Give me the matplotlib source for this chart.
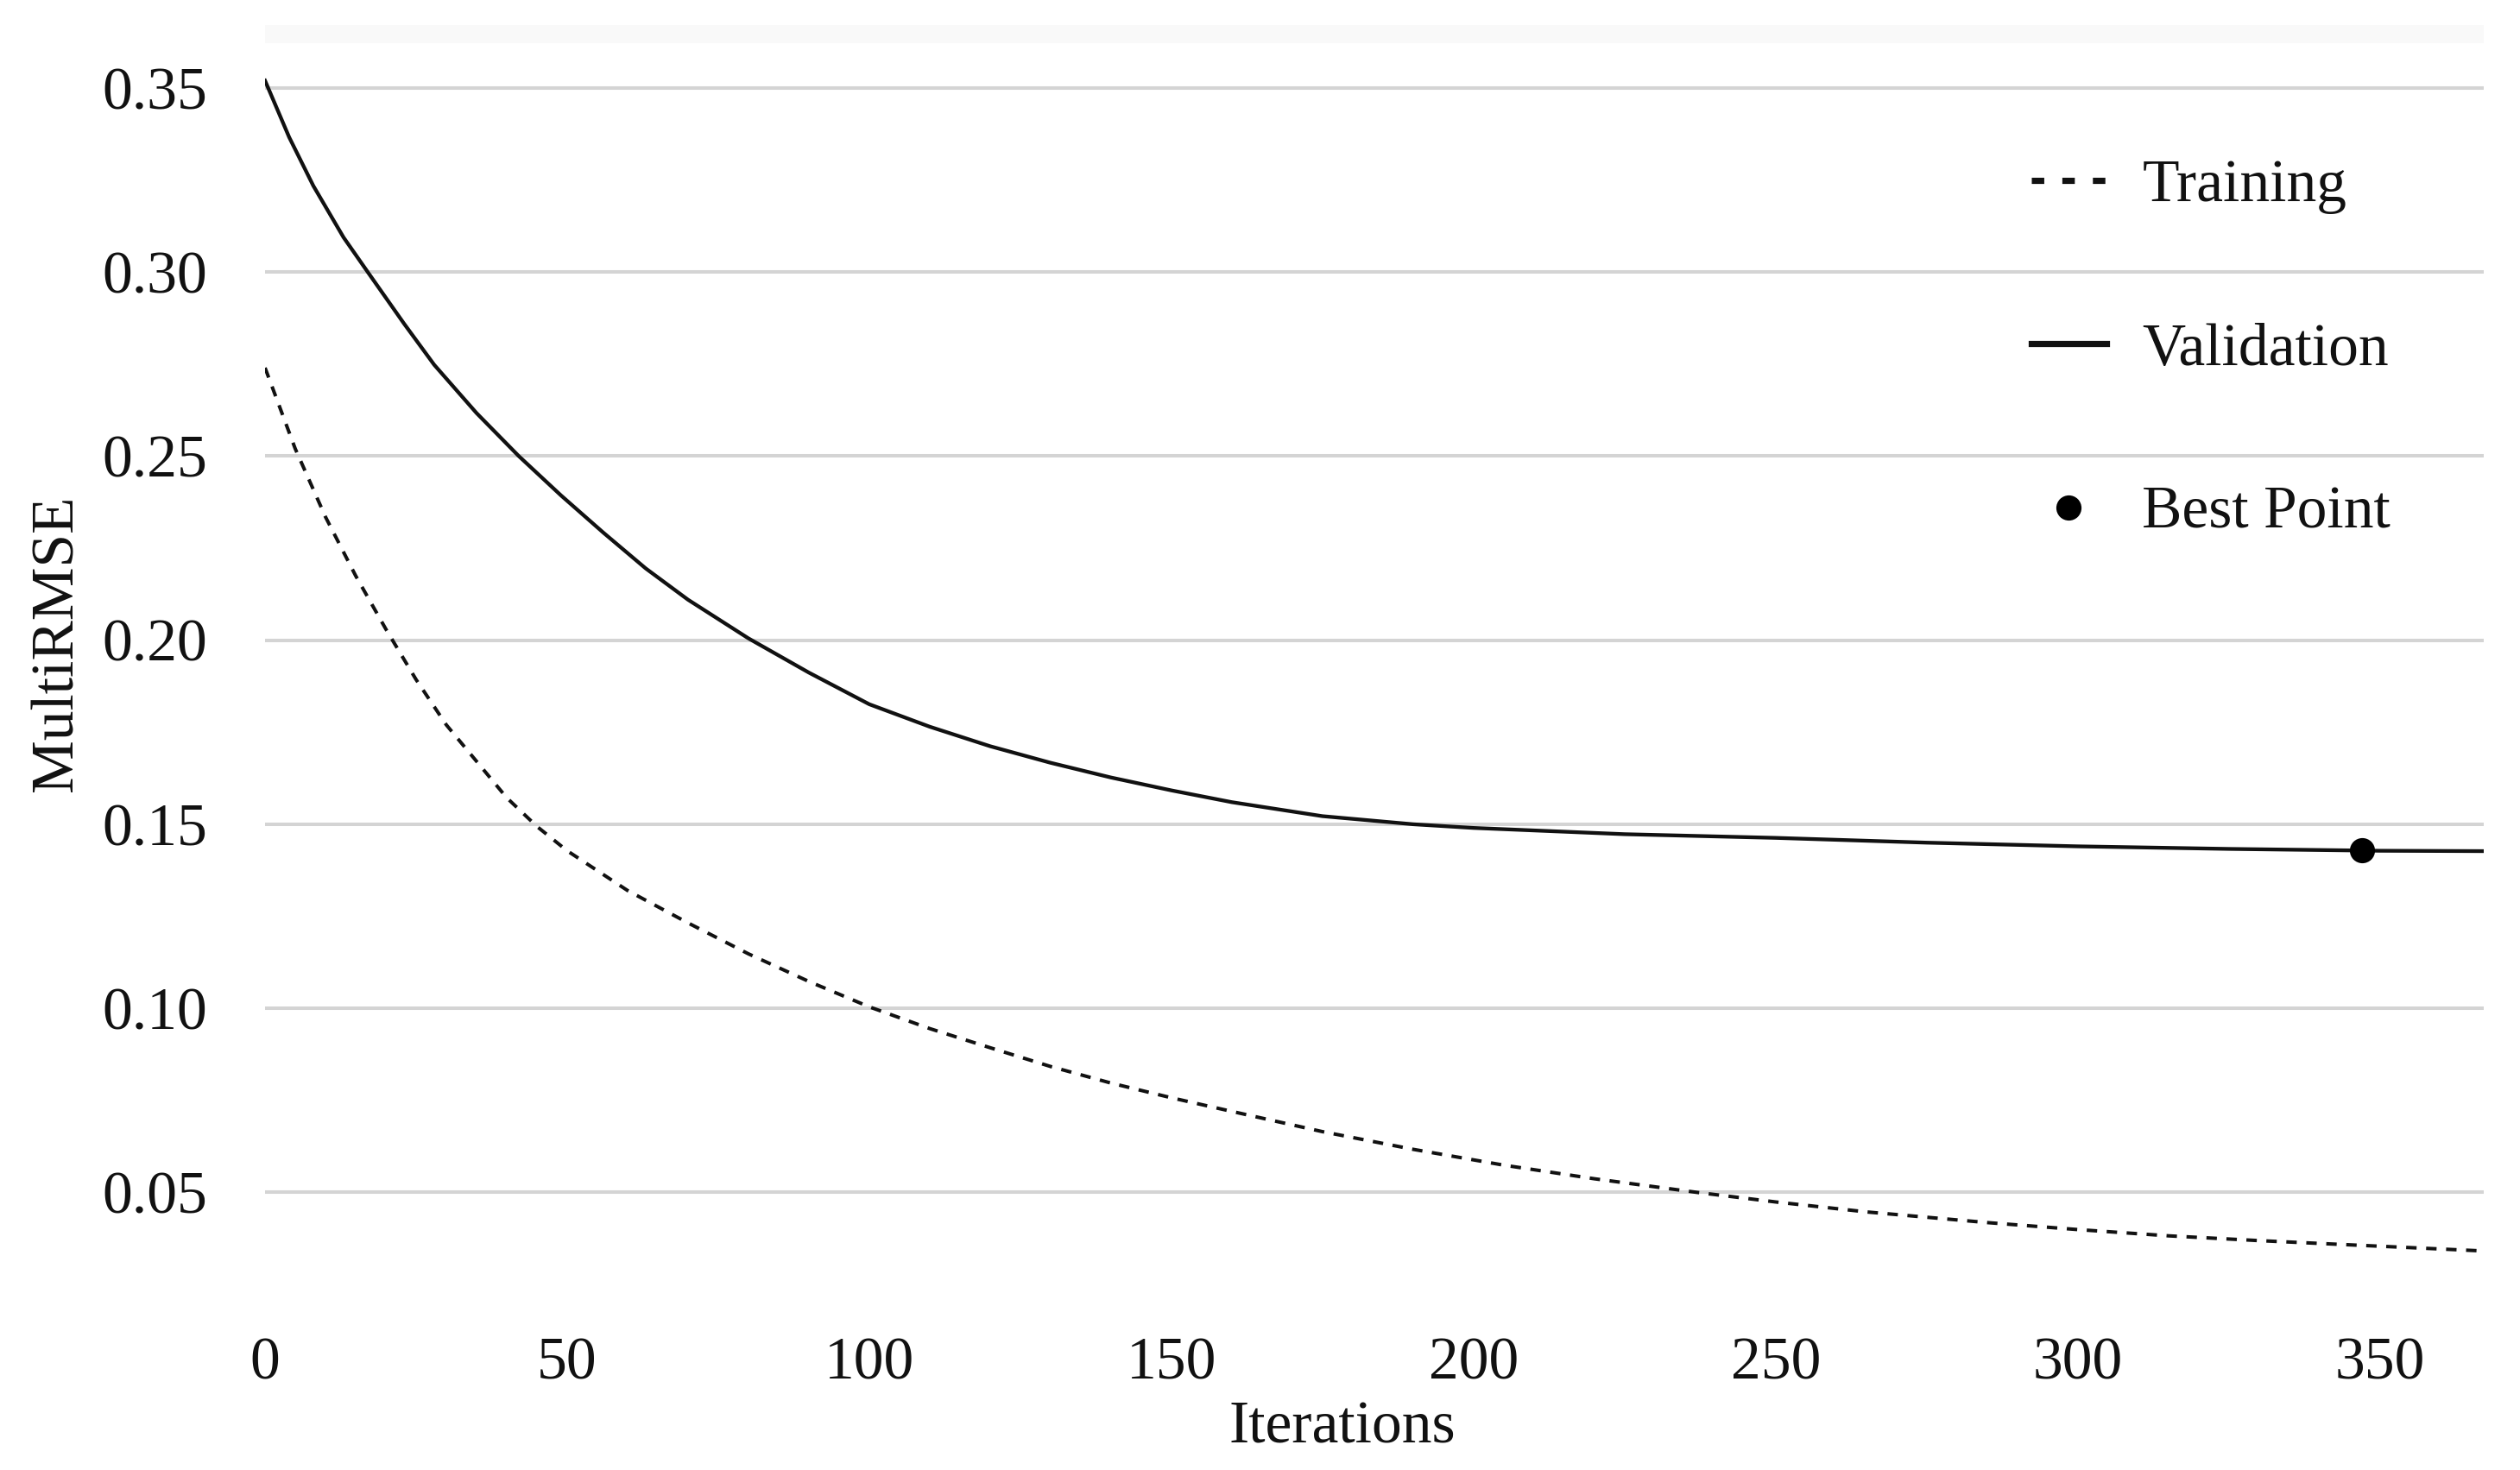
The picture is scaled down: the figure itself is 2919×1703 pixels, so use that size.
import matplotlib
matplotlib.use('Agg')
from matplotlib import pyplot as plt
from matplotlib.lines import Line2D

# values
val_iter = [0, 4, 8, 13, 17, 23, 28, 35, 42, 49, 56, 63, 70, 80, 90, 100,
            110, 120, 130, 140, 150, 160, 175, 190, 200, 225, 250, 275, 300,
            325, 350, 367]
val_rmse = [0.352, 0.3366, 0.3234, 0.3094, 0.3000, 0.2860, 0.2748, 0.2617,
            0.2500, 0.2393, 0.2292, 0.2195, 0.2110, 0.2005, 0.1912, 0.1826,
            0.1765, 0.1712, 0.1667, 0.1627, 0.1592, 0.1560, 0.1522, 0.1500,
            0.1490, 0.1473, 0.1463, 0.1450, 0.1440, 0.1433, 0.1428, 0.1427]

train_iter = [0, 5, 10, 15, 20, 25, 30, 40, 45, 50, 60, 70, 80, 90, 100, 110,
              120, 130, 140, 150, 160, 175, 190, 205, 220, 237, 250, 265, 285,
              300, 315, 330, 347, 367]
train_rmse = [0.274, 0.2520, 0.2335, 0.2175, 0.2030, 0.1893, 0.1770, 0.1572,
              0.1494, 0.1428, 0.1320, 0.1232, 0.1148, 0.1073, 0.1004, 0.0945,
              0.0893, 0.0842, 0.0797, 0.0757, 0.0720, 0.0665, 0.0617, 0.0574,
              0.0537, 0.0500, 0.0474, 0.0447, 0.0418, 0.0399, 0.0382, 0.0369,
              0.0356, 0.0341]

best_iter = 347
best_rmse = 0.1429

yticks = [0.05, 0.10, 0.15, 0.20, 0.25, 0.30, 0.35]
xticks = [0, 50, 100, 150, 200, 250, 300, 350]

plt.rcParams['font.family'] = ['Liberation Serif', 'DejaVu Serif']
plt.rcParams['font.size'] = 25
ink = '#111111'

W, H = 2919, 1703
fig = plt.figure(figsize=(W / 200, H / 200), dpi=200)
ax = fig.add_axes([307 / W, 1 - 1488 / H, (2877 - 307) / W, (1488 - 29) / H])

ax.axhspan(0.3622, 0.3671, color='#f9f9f9', lw=0, zorder=0)

ax.plot(train_iter, train_rmse, color=ink, lw=1.45, dashes=(3.0, 2.75),
        solid_capstyle='butt', zorder=3)
ax.plot(val_iter, val_rmse, color=ink, lw=1.55, zorder=3)
ax.plot([best_iter], [best_rmse], 'o', color='black', ms=9.5, zorder=4)

ax.set_xlim(0, 367.2)
ax.set_ylim(0.025, 0.3671)
ax.set_xticks(xticks)
ax.set_yticks(yticks)
ax.set_yticklabels([f'{v:.2f}' for v in yticks])
ax.yaxis.grid(True, color='#d4d4d4', lw=1.45)
ax.set_axisbelow(True)
for s in ax.spines.values():
    s.set_visible(False)
ax.tick_params(axis='both', length=0, colors=ink)
ax.tick_params(axis='y', pad=24)
ax.tick_params(axis='x', pad=22)

ax.set_xlabel('Iterations', color=ink)
ax.xaxis.set_label_coords(0.4856, -0.0925)
ax.set_ylabel('MultiRMSE', color=ink)
ax.yaxis.label.set_va('center')
ax.yaxis.set_label_coords(-0.0935, 0.509)

handles = [
    Line2D([], [], color=ink, lw=2.6, dashes=(2.0, 2.9)),
    Line2D([], [], color=ink, lw=2.6),
    Line2D([], [], ls='none', marker='o', color='black', ms=9.5),
]
fig.legend(handles, ['Training', 'Validation', 'Best Point'],
           loc='upper left', bbox_to_anchor=(2318 / W, 1 - 150 / H),
           frameon=False, borderpad=0, handlelength=1.25, handletextpad=0.6,
           labelspacing=1.81, labelcolor=ink)

fig.savefig('out.png', dpi=200)
